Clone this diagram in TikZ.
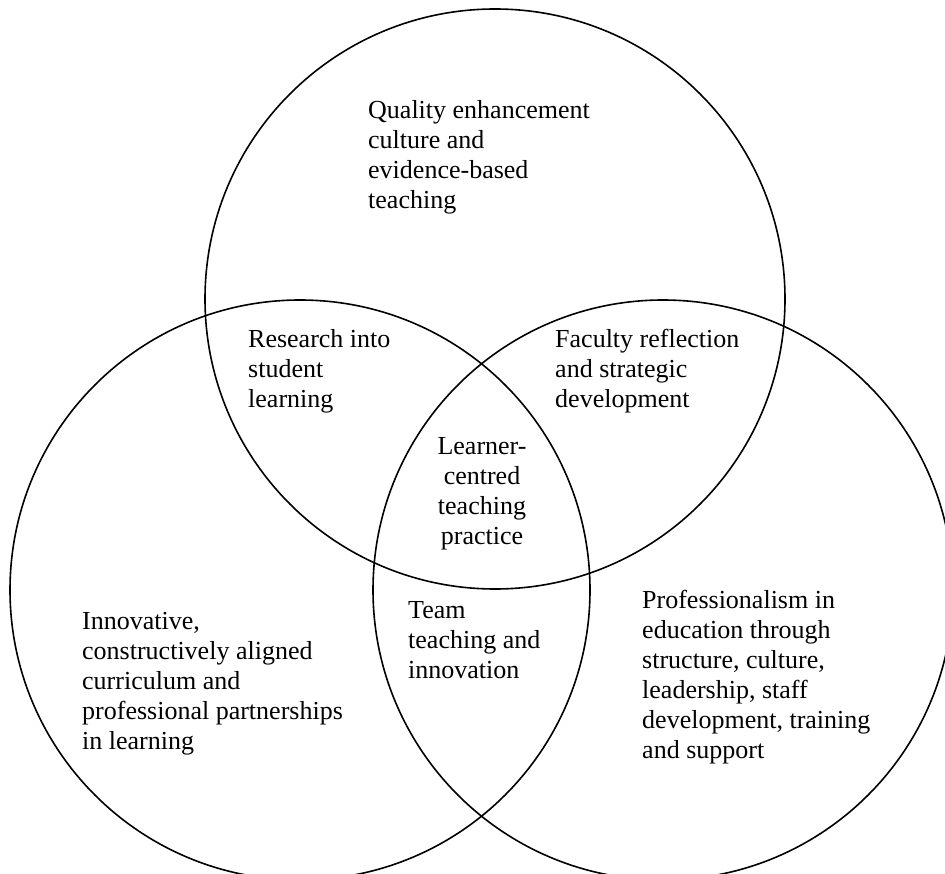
\documentclass[tikz,border=0pt]{standalone}
\usepackage{fontspec}
\setmainfont{Liberation Serif}
\begin{document}
\begin{tikzpicture}[x=1pt,y=-1pt,
  venn/.style={draw=black,line width=1.6pt,circle,minimum size=580pt,inner sep=0pt},
  lbl/.style={inner sep=0pt,anchor=north west,align=left,font=\fontsize{26}{30}\selectfont},
  clbl/.style={lbl,align=center,anchor=north}]
\useasboundingbox (0,0) rectangle (945,874);
\clip (0,0) rectangle (945,874);
\node[venn] (top) at (495,299) {};
\node[venn] (left) at (300,590) {};
\node[venn] (right) at (663,590) {};
\node[lbl] (q) at (368,100) {Quality enhancement\\culture and\\evidence-based\\teaching};
\node[lbl] (r) at (248,329) {Research into\\student\\learning};
\node[lbl] (f) at (555,329) {Faculty reflection\\and strategic\\development};
\node[clbl] (c) at (482,437) {Learner-\\centred\\teaching\\practice};
\node[lbl] (t) at (408,601) {Team\\teaching and\\innovation};
\node[lbl] (i) at (82,612) {Innovative,\\constructively aligned\\curriculum and\\professional partnerships\\in learning};
\node[lbl] (p) at (642,590) {Professionalism in\\education through\\structure, culture,\\leadership, staff\\development, training\\and support};
\end{tikzpicture}
\end{document}
